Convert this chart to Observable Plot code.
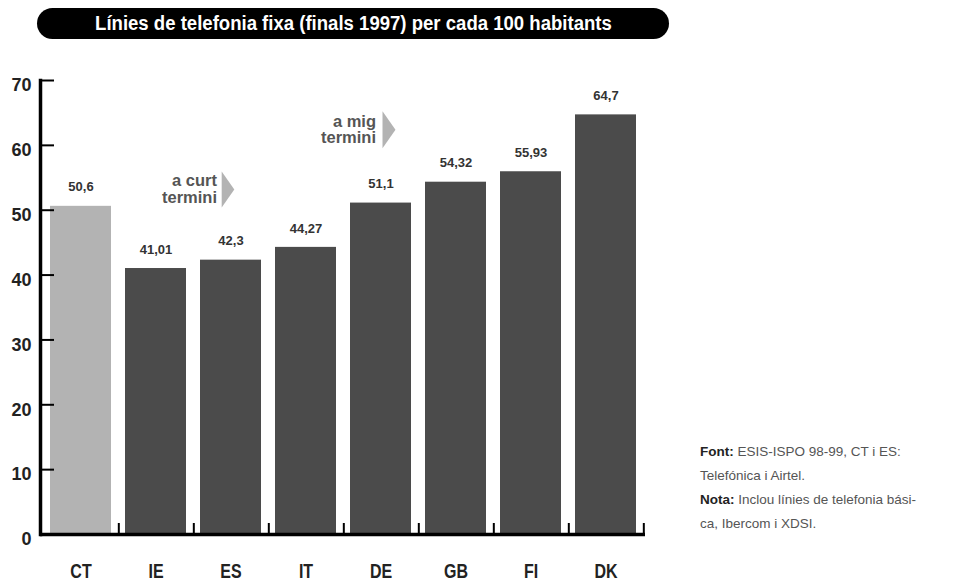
<!DOCTYPE html>
<html>
<head>
<meta charset="utf-8">
<script src="https://cdn.jsdelivr.net/npm/d3@7"></script>
<script src="https://cdn.jsdelivr.net/npm/@observablehq/plot@0.6"></script>
<style>
  html, body { margin: 0; padding: 0; background: #fff; }
  #wrap { position: relative; width: 975px; height: 586px; overflow: hidden; }
  #title {
    position: absolute; left: 37px; top: 8px; width: 632px; height: 31px;
    background: #000; border-radius: 16px; color: #fff;
    font-family: "Liberation Sans", Arial, sans-serif;
    font-weight: bold; font-size: 20px; line-height: 31px; text-align: center;
    white-space: nowrap;
  }
  #title span { display: inline-block; transform-origin: center; }
  #note {
    position: absolute; left: 700px; top: 440px; width: 275px;
    font-family: "Liberation Sans", Arial, sans-serif; font-size: 13.5px;
    line-height: 24px; color: #555;
  }
  #note b { color: #222; }
  #chart { position: absolute; left: 0; top: 0; }
</style>
</head>
<body>
<div id="wrap">
  <div id="chart"></div>
  <div id="title"><span>Línies de telefonia fixa (finals 1997) per cada 100 habitants</span></div>
  <div id="note"><b>Font:</b> ESIS-ISPO 98-99, CT i ES:<br>Telefónica i Airtel.<br><b>Nota:</b> Inclou línies de telefonia bási-<br>ca, Ibercom i XDSI.</div>
</div>
<script>
const countries = ["CT", "IE", "ES", "IT", "DE", "GB", "FI", "DK"];
const values = [50.6, 41.01, 42.3, 44.27, 51.1, 54.32, 55.93, 64.7];
const yTicks = [0, 10, 20, 30, 40, 50, 60, 70];
const highlight = "CT";
const annoShort = {x: "ES", y: 53.2, text: "a curt\ntermini"};
const annoMid = {x: "DE", y: 62.4, text: "a mig\ntermini"};

const data = countries.map((c, i) => ({country: c, value: values[i]}));
const fmt = v => String(v).replace(".", ",");

const W = 975, H = 586, mL = 40, mR = 330, mT = 80, mB = 52;
const step = (W - mL - mR) / countries.length;
const font = "'Liberation Sans', Arial, sans-serif";

const arrow = {
  draw(ctx, size) {
    const r = Math.sqrt(size / Math.PI);
    ctx.moveTo(-0.35 * r, -r);
    ctx.lineTo(0.35 * r, 0);
    ctx.lineTo(-0.35 * r, r);
    ctx.closePath();
  }
};

const chart = Plot.plot({
  width: W, height: H,
  marginLeft: mL, marginRight: mR, marginTop: mT, marginBottom: mB,
  style: {fontFamily: font, color: "#222", background: "transparent"},
  x: {domain: countries, paddingInner: 0.19, paddingOuter: 0.095, label: null},
  y: {domain: [0, 70], label: null},
  marks: [
    Plot.barY(data, {x: "country", y: "value", fill: d => d.country === highlight ? "#b3b3b3" : "#4b4b4b"}),
    Plot.text(data, {x: "country", y: "value", text: d => fmt(d.value), dy: -19, fontSize: 13, fontWeight: "bold", fill: "#333"}),
    Plot.ruleY([0], {stroke: "#000", strokeWidth: 3.5}),
    Plot.frame({anchor: "left", stroke: "#000", strokeWidth: 3.5}),
    Plot.ruleX(countries, {x: d => d, y1: 0, y2: 1.7, dx: step / 2, stroke: "#000", strokeWidth: 2}),
    Plot.axisY({ticks: yTicks, tickSize: -14, strokeWidth: 2, stroke: "#000", text: null}),
    Plot.axisY({ticks: yTicks, tickSize: 0, tickPadding: 9, dy: 5, fontSize: 18, fontWeight: "bold", fill: "#222"}),
    Plot.axisX({tickSize: 0, tickPadding: 30, fontSize: 19.5, fontWeight: "bold", fill: "#222"}),
    Plot.text([annoShort], {x: "x", y: "y", text: "text", textAnchor: "end", dx: -14, lineHeight: 1, fontSize: 16.5, fontWeight: "bold", fill: "#555", ariaLabel: "annotation"}),
    Plot.dot([annoShort], {x: "x", y: "y", dx: -3, r: 18, symbol: arrow, fill: "#b3b3b3", stroke: null}),
    Plot.text([annoMid], {x: "x", y: "y", text: "text", textAnchor: "end", dx: -5, lineHeight: 1, fontSize: 16.5, fontWeight: "bold", fill: "#555", ariaLabel: "annotation"}),
    Plot.dot([annoMid], {x: "x", y: "y", dx: 8, r: 18.5, symbol: arrow, fill: "#b3b3b3", stroke: null})
  ]
});
document.getElementById("chart").appendChild(chart);

// condense labels (the original uses a condensed typeface)
function condense(selector, k) {
  chart.querySelectorAll(selector).forEach(t => {
    const len = t.getComputedTextLength();
    t.setAttribute("textLength", (len * k).toFixed(1));
    t.setAttribute("lengthAdjust", "spacingAndGlyphs");
  });
}
condense('g[aria-label="x-axis tick label"] text', 0.82);
condense('g[aria-label="annotation"] tspan', 0.95);
// condense the title to the original's width
const span = document.querySelector("#title span");
const w = span.getBoundingClientRect().width;
span.style.transform = `scaleX(${(517 / w).toFixed(3)})`;
</script>
</body>
</html>
